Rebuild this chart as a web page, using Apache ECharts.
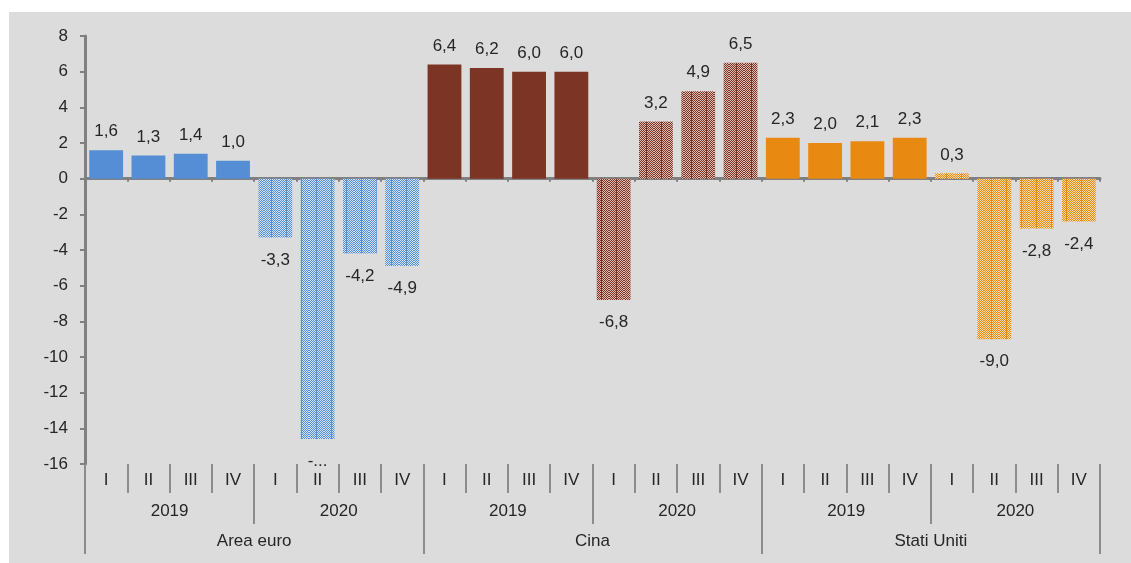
<!DOCTYPE html>
<html>
<head>
<meta charset="utf-8">
<script src="https://cdn.jsdelivr.net/npm/echarts@6/dist/echarts.min.js"></script>
<style>
  html, body { margin: 0; padding: 0; background: #ffffff; width: 1131px; height: 563px; overflow: hidden; }
  #chart { position: absolute; left: 9px; top: 12px; width: 1122px; height: 551px; background: #dcdcdc; }
</style>
</head>
<body>
<div id="chart"></div>
<script>
// ---- Data ----
const groups = ['Area euro', 'Cina', 'Stati Uniti'];
const years = ['2019', '2020'];
const quarters = ['I', 'II', 'III', 'IV'];
const areaEuro = [1.6, 1.3, 1.4, 1.0, -3.3, -14.6, -4.2, -4.9];
const cina = [6.4, 6.2, 6.0, 6.0, -6.8, 3.2, 4.9, 6.5];
const statiUniti = [2.3, 2.0, 2.1, 2.3, 0.3, -9.0, -2.8, -2.4];
const groupValues = [areaEuro, cina, statiUniti];
const groupColors = ['#558ed5', '#7c3424', '#e88a12'];
const groupTints = ['#d2e3f8', '#dcbdb5', '#fbdcb0'];
// labels that appear truncated in the original (group index, position index)
const truncatedLabels = [[0, 5]];
const yTicks = { min: -16, max: 8, interval: 2 };

function makePattern(base, tint) {
  const c = document.createElement('canvas');
  c.width = 15; c.height = 4;
  const ctx = c.getContext('2d');
  ctx.fillStyle = tint;
  ctx.fillRect(0, 0, 15, 4);
  ctx.fillStyle = base;
  for (let y = 0; y < 4; y++) {
    for (let x = 0; x < 15; x++) {
      if ((x + y) % 2 === 0) ctx.fillRect(x, y, 1, 1);
    }
  }
  ctx.fillRect(7, 0, 1, 4);
  return { image: c, repeat: 'repeat' };
}

const categories = [];
const seriesData = [];
groups.forEach((g, gi) => {
  const pat = makePattern(groupColors[gi], groupTints[gi]);
  years.forEach((y, yi) => {
    quarters.forEach((q, qi) => {
      const idx = yi * quarters.length + qi;
      const v = groupValues[gi][idx];
      categories.push(g + ' ' + y + ' ' + q);
      const trunc = truncatedLabels.some(t => t[0] === gi && t[1] === idx);
      seriesData.push({
        value: v,
        itemStyle: { color: yi === 0 ? groupColors[gi] : pat },
        label: {
          position: v >= 0 ? 'top' : 'bottom',
          distance: v >= 0 ? 10 : 14,
          formatter: trunc ? '-...' : v.toFixed(1).replace('.', ',')
        }
      });
    });
  });
});

const quarterCats = [];
const yearCats = [];
groups.forEach(g => {
  years.forEach(y => {
    yearCats.push(y + '|' + g);
    quarters.forEach(q => quarterCats.push(q + '|' + y + '|' + g));
  });
});

const font = 'Liberation Sans, Arial, sans-serif';
const fs = 17;
const textColor = '#262626';
const axisGray = '#808080';

const chart = echarts.init(document.getElementById('chart'), null, { renderer: 'canvas' });
chart.setOption({
  animation: false,
  backgroundColor: 'transparent',
  grid: { left: 76, right: 31, top: 24, bottom: 99, containLabel: false },
  xAxis: [
    {
      type: 'category', data: categories, position: 'bottom',
      axisLine: { show: true, onZero: true, lineStyle: { color: axisGray, width: 3 } },
      axisTick: { show: true, interval: 0, length: 3, lineStyle: { color: axisGray, width: 2 } },
      axisLabel: { show: false }, splitLine: { show: false }
    },
    {
      type: 'category', data: quarterCats, position: 'bottom',
      axisLine: { show: false, onZero: false },
      axisTick: { show: true, interval: 0, length: 29, lineStyle: { color: '#8c8c8c', width: 2 } },
      axisLabel: { interval: 0, margin: 8, color: textColor, fontFamily: font, fontSize: fs,
        formatter: v => v.split('|')[0] },
      splitLine: { show: false }
    },
    {
      type: 'category', data: yearCats, position: 'bottom',
      axisLine: { show: false, onZero: false },
      axisTick: { show: true, interval: 0, length: 60, lineStyle: { color: '#8c8c8c', width: 2 } },
      axisLabel: { interval: 0, margin: 39, color: textColor, fontFamily: font, fontSize: fs,
        formatter: v => v.split('|')[0] },
      splitLine: { show: false }
    },
    {
      type: 'category', data: groups, position: 'bottom',
      axisLine: { show: false, onZero: false },
      axisTick: { show: true, interval: 0, length: 90, lineStyle: { color: '#8c8c8c', width: 2 } },
      axisLabel: { interval: 0, margin: 69, color: textColor, fontFamily: font, fontSize: fs },
      splitLine: { show: false }
    }
  ],
  yAxis: {
    type: 'value', min: yTicks.min, max: yTicks.max, interval: yTicks.interval,
    axisLine: { show: true, lineStyle: { color: axisGray, width: 3 } },
    axisTick: { show: true, length: 5, lineStyle: { color: axisGray, width: 2 } },
    axisLabel: { margin: 17, color: textColor, fontFamily: font, fontSize: fs },
    splitLine: { show: false }
  },
  series: [{
    type: 'bar', xAxisIndex: 0, data: seriesData, barCategoryGap: '20%',
    label: { show: true, color: textColor, fontFamily: font, fontSize: fs }
  }]
});
</script>
</body>
</html>
